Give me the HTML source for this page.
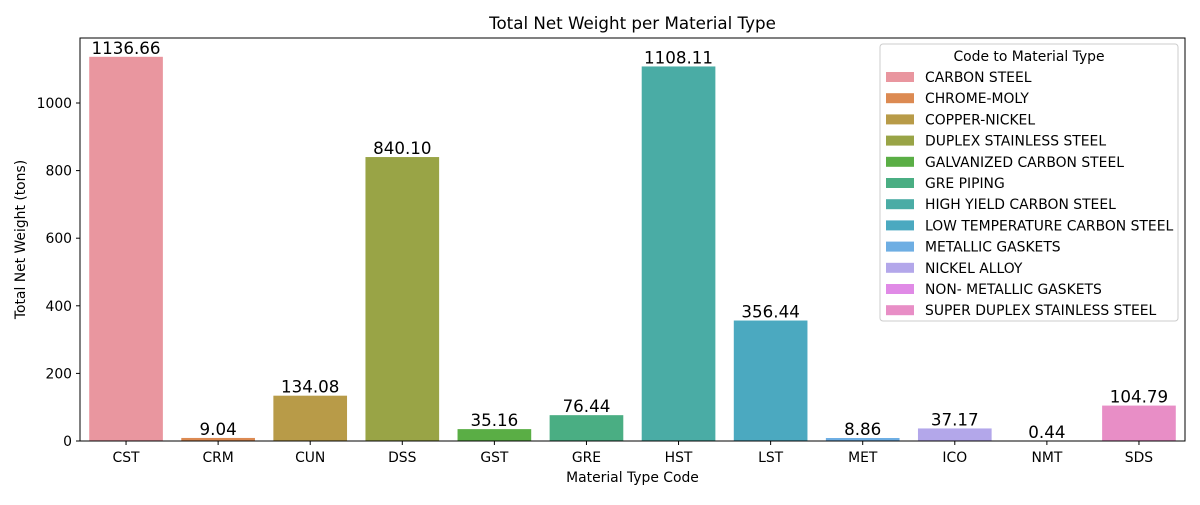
<!DOCTYPE html>
<html><head><meta charset="utf-8">
<style>
body{margin:0;background:#fff;font-family:"Liberation Sans","DejaVu Sans",sans-serif;}
svg text{font-family:"DejaVu Sans","Liberation Sans",sans-serif;}
</style></head>
<body>
<svg id="chart" width="1200" height="500" xmlns="http://www.w3.org/2000/svg"></svg>
<script>
const categories=["CST","CRM","CUN","DSS","GST","GRE","HST","LST","MET","ICO","NMT","SDS"];
const values=[1136.66,9.04,134.08,840.10,35.16,76.44,1108.11,356.44,8.86,37.17,0.44,104.79];
const legendLabels=["CARBON STEEL","CHROME-MOLY","COPPER-NICKEL","DUPLEX STAINLESS STEEL","GALVANIZED CARBON STEEL","GRE PIPING","HIGH YIELD CARBON STEEL","LOW TEMPERATURE CARBON STEEL","METALLIC GASKETS","NICKEL ALLOY","NON- METALLIC GASKETS","SUPER DUPLEX STAINLESS STEEL"];
const yTicks=[0,200,400,600,800,1000];
const colors=["#e9969f","#dc8a52","#b89b48","#99a446","#5aae45","#4aae83","#4aaca5","#4ba9c0","#6eaee3","#b3a7ea","#e08ae6","#e88ec6"];
const NS="http://www.w3.org/2000/svg";
const svg=document.getElementById('chart');
const L=80,R=1185,T=38,B=441,yMax=1192.3;
const xs=i=>L+(i+0.5)*(R-L)/categories.length;
const ys=v=>B-v/yMax*(B-T);
function el(tag,attrs,parent){const e=document.createElementNS(NS,tag);for(const k in attrs)e.setAttribute(k,attrs[k]);(parent||svg).appendChild(e);return e;}
const bw=(R-L)/categories.length*0.8;
values.forEach((v,i)=>{
 const r=el('rect',{x:xs(i)-bw/2,y:ys(v),width:bw,height:B-ys(v),fill:colors[i]});
 
 
 const t=el('text',{x:xs(i),y:ys(v)-3,'text-anchor':'middle','font-size':16.7,fill:'#000'});
 t.textContent=v.toFixed(2);
 
 
 el('line',{x1:xs(i),x2:xs(i),y1:B,y2:B+4,stroke:'#000'});
 const tl=el('text',{x:xs(i),y:B+21,'text-anchor':'middle','font-size':13.9});
 tl.textContent=categories[i];
 
 
});
yTicks.forEach(v=>{
 el('line',{x1:L-4,x2:L,y1:ys(v),y2:ys(v),stroke:'#000'});
 const t=el('text',{x:L-8,y:ys(v)+5,'text-anchor':'end','font-size':13.9});
 t.textContent=v;
 
 
});
const frame=el('rect',{x:L,y:T,width:R-L,height:B-T,fill:'none',stroke:'#000','stroke-width':1});


const title=el('text',{x:(L+R)/2,y:29,'text-anchor':'middle','font-size':16.7});
title.textContent='Total Net Weight per Material Type';


const xt=el('text',{x:(L+R)/2,y:482,'text-anchor':'middle','font-size':13.9});
xt.textContent='Material Type Code';


const yt=el('text',{x:0,y:0,'text-anchor':'middle','font-size':13.9,transform:'translate(25,'+((T+B)/2)+') rotate(-90)'});
yt.textContent='Total Net Weight (tons)';


const lg=el('g',{});


el('rect',{x:880,y:44,width:298,height:277,rx:3,fill:'#fff','fill-opacity':0.8,stroke:'#ccc'},lg);
const lt=el('text',{x:1029,y:61,'text-anchor':'middle','font-size':13.9},lg);
lt.textContent='Code to Material Type';
legendLabels.forEach((s,i)=>{
 const y=77+i*21.2;
 const g=el('g',{},lg);
 
 
 el('rect',{x:886,y:y-5,width:28,height:10,fill:colors[i]},g);
 const t=el('text',{x:925,y:y+5,'font-size':13.9},g);
 t.textContent=s;
});
</script>
</body></html>
